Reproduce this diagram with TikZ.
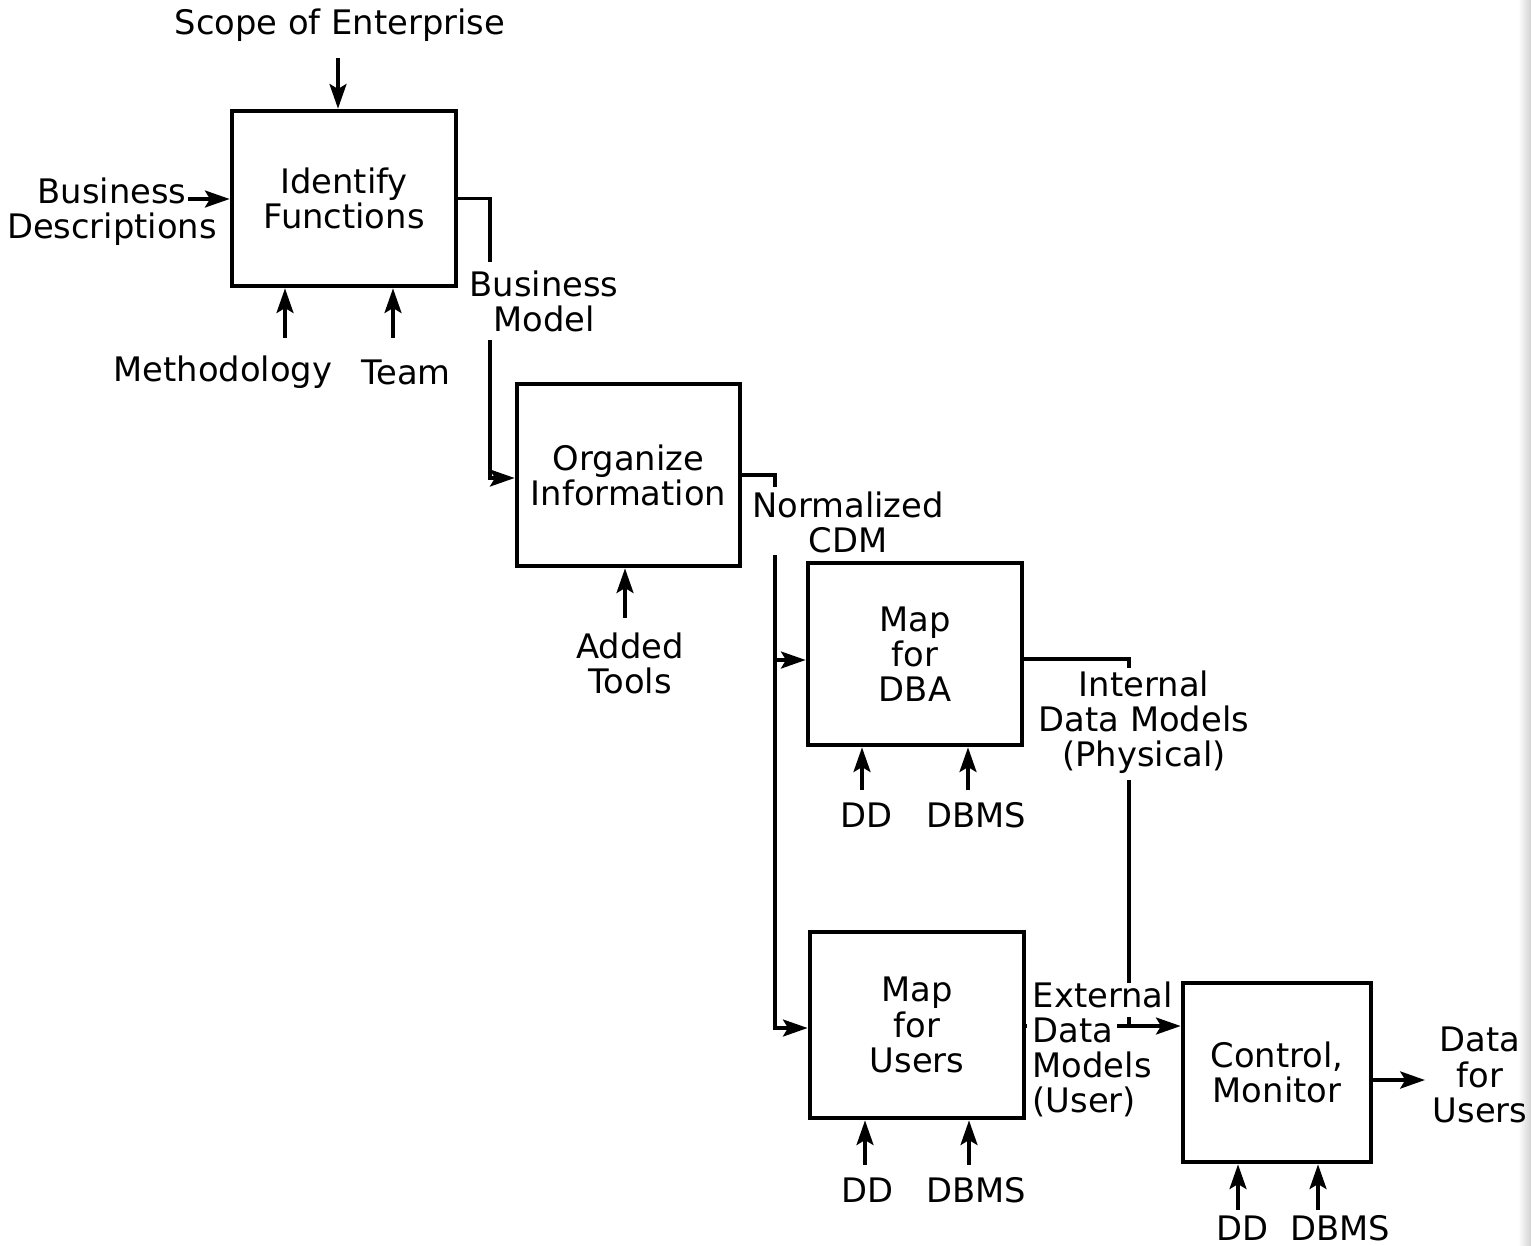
\documentclass[tikz,border=0pt]{standalone}
\usepackage{fontspec}
\setmainfont{DejaVu Sans}
\usetikzlibrary{arrows.meta,calc}
\begin{document}
\begin{tikzpicture}[x=0.01cm,y=-0.01cm,
  txt/.style={align=center, inner sep=0pt, font=\fontsize{9.6}{10}\selectfont},
  proc/.style={txt, draw, line width=1.3pt},
  flow/.style={line width=1.05pt},
  arr/.style={flow, -{Stealth[length=7pt,width=4.8pt,inset=1.4pt]}}]

% page area and scanned edge
\useasboundingbox (0,0) rectangle (1531,1245);
\shade[left color=white, right color=gray!35] (1518,0) rectangle (1531,1245);

% activity boxes
\node[proc, minimum width=2.24cm, minimum height=1.75cm] (f1)  at (344,198.5) {Identify\\Functions};
\node[proc, minimum width=2.23cm, minimum height=1.82cm] (org) at (628.5,475) {Organize\\Information};
\node[proc, minimum width=2.14cm, minimum height=1.82cm] (dba) at (915,654)   {Map\\for\\DBA};
\node[proc, minimum width=2.14cm, minimum height=1.86cm] (usr) at (917,1025)  {Map\\for\\Users};
\node[proc, minimum width=1.88cm, minimum height=1.79cm] (ctl) at (1277,1072.5) {Control,\\Monitor};

% Identify Functions: inputs and controls
\node[txt] (scope) at (340,25) {Scope of Enterprise};
\coordinate (scopeA) at (338,58);
\draw[arr] (scopeA) -- (scopeA |- f1.north);

\node[txt] (bd) at (112,212) {Business\\Descriptions};
\coordinate (bdA) at (188,199);
\draw[arr] (bdA) -- (bdA -| f1.west);

\node[txt] (meth) at (223,372) {Methodology};
\coordinate (methA) at (285,338);
\draw[arr] (methA) -- (methA |- f1.south);

\node[txt] (team) at (406,372) {Team};
\coordinate (teamA) at (393,338);
\draw[arr] (teamA) -- (teamA |- f1.south);

% Business Model flow
\coordinate (bm1) at (490,262);
\draw[flow] (f1.east) -| (bm1);
\node[txt] (bm) at (544,301) {Business\\Model};
\coordinate (bm2) at (490,340);
\draw[arr] (bm2) |- ($(org.west)+(0,3)$);

% Organize Information: mechanism
\node[txt] (tools) at (630,663) {Added\\Tools};
\coordinate (toolsA) at (625,618);
\draw[arr] (toolsA) -- (toolsA |- org.south);

% Normalized CDM flow
\coordinate (nc1) at (775,487);
\draw[flow] (org.east) -| (nc1);
\node[txt] (cdm) at (848,522) {Normalized\\CDM};
\coordinate (nc2) at (775,555);
\draw[arr] (nc2) |- ($(dba.west)+(0,6)$);
\draw[arr] (nc2) |- ($(usr.west)+(0,3)$);

% Map for DBA: mechanisms
\node[txt] (dd1) at (866,815) {DD};
\node[txt] (dbms1) at (976,815) {DBMS};
\coordinate (dd1A) at (862,790);
\coordinate (dbms1A) at (968,790);
\draw[arr] (dd1A) -- (dd1A |- dba.south);
\draw[arr] (dbms1A) -- (dbms1A |- dba.south);

% Internal Data Models flow
\coordinate (im1) at (1129,668);
\draw[flow] ($(dba.east)+(0,5)$) -| (im1);
\node[txt] (idm) at (1144,722) {Internal\\Data Models\\(Physical)};
\coordinate (im2) at (1129,780);
\coordinate (im3) at (1129,983);
\coordinate (im4) at (1129,1017);
\coordinate (im5) at (1129,1026);
\draw[flow] (im2) -- (im3);
\draw[flow] (im4) -- (im5);

% Map for Users: mechanisms
\node[txt] (dd2) at (867,1190) {DD};
\node[txt] (dbms2) at (976,1190) {DBMS};
\coordinate (dd2A) at (865,1165);
\coordinate (dbms2A) at (969,1165);
\draw[arr] (dd2A) -- (dd2A |- usr.south);
\draw[arr] (dbms2A) -- (dbms2A |- usr.south);

% External Data Models flow
\node[txt, anchor=west, align=left] (edm) at (1032,1049.5) {External\\Data\\Models\\(User)};
\coordinate (em0) at (1027,1026);
\draw[flow] ($(usr.east)+(0,1)$) -- (em0);
\coordinate (em1) at (1117,1026);
\draw[arr] (em1) -- (em1 -| ctl.west);

% Control, Monitor: mechanisms and output
\node[txt] (dd3) at (1242,1228) {DD};
\node[txt] (dbms3) at (1340,1228) {DBMS};
\coordinate (dd3A) at (1238,1210);
\coordinate (dbms3A) at (1318,1210);
\draw[arr] (dd3A) -- (dd3A |- ctl.south);
\draw[arr] (dbms3A) -- (dbms3A |- ctl.south);

\node[txt] (out) at (1480,1075) {Data\\for\\Users};
\coordinate (outA) at (1425,1080);
\draw[arr, line width=1.25pt] ($(ctl.east)+(0,7.5)$) -- (outA);
\end{tikzpicture}
\end{document}
